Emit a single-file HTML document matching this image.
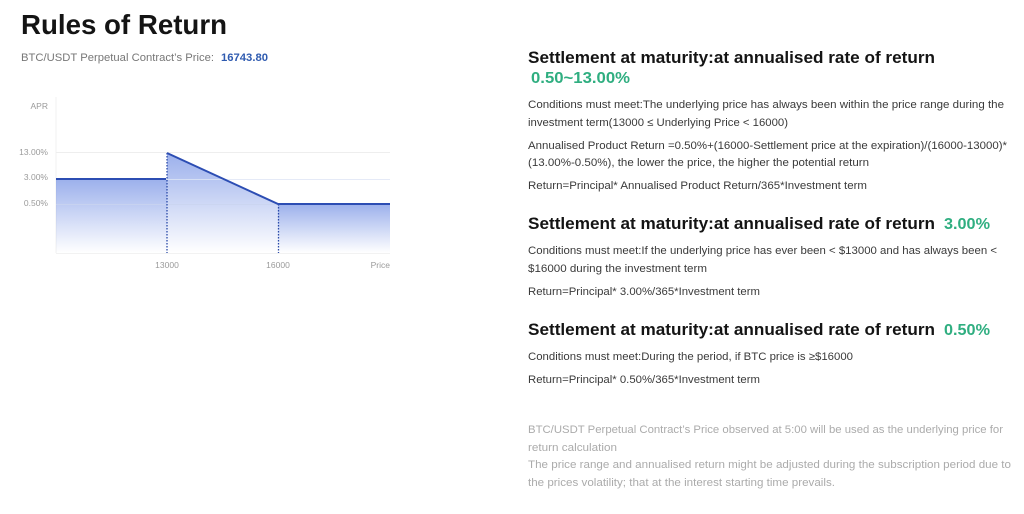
<!DOCTYPE html>
<html>
<head>
<meta charset="utf-8">
<style>
  html, body { margin:0; padding:0; background:#fff; }
  svg { display:block; }
  text { font-family: "Liberation Sans", "DejaVu Sans", sans-serif; }
</style>
</head>
<body>
<svg width="1024" height="514" viewBox="0 0 1024 514" xmlns="http://www.w3.org/2000/svg">
  <defs>
    <linearGradient id="g" x1="0" y1="0" x2="0" y2="1">
      <stop offset="0" stop-color="#4a6fdc" stop-opacity="0.55"/>
      <stop offset="1" stop-color="#4a6fdc" stop-opacity="0"/>
    </linearGradient>
  </defs>
  <rect width="1024" height="514" fill="#fff"/>

  <!-- Left header -->
  <text x="21" y="34" font-size="28" font-weight="bold" fill="#141414" textLength="206" lengthAdjust="spacingAndGlyphs">Rules of Return</text>
  <text x="21" y="61" font-size="11" fill="#777" textLength="193" lengthAdjust="spacingAndGlyphs">BTC/USDT Perpetual Contract’s Price:</text>
  <text x="221" y="61" font-size="11" font-weight="bold" fill="#2f5bb0" textLength="47" lengthAdjust="spacingAndGlyphs">16743.80</text>

  <!-- Chart grid -->
  <line x1="56" y1="97" x2="56" y2="253" stroke="#f0f0f0" stroke-width="1"/>
  <line x1="56" y1="152.5" x2="390" y2="152.5" stroke="#eeeeee" stroke-width="1"/>
  <line x1="56" y1="253.5" x2="390" y2="253.5" stroke="#f2f2f2" stroke-width="1"/>

  <!-- Areas -->
  <polygon points="56,179 167,179 167,253 56,253" fill="url(#g)"/>
  <polygon points="167,153 278,204 278,253 167,253" fill="url(#g)"/>
  <polygon points="278,204 390,204 390,253 278,253" fill="url(#g)"/>

  <!-- gridlines over area -->
  <line x1="56" y1="179.5" x2="390" y2="179.5" stroke="#dfe5f5" stroke-opacity="0.8" stroke-width="1"/>
  <line x1="56" y1="204.5" x2="390" y2="204.5" stroke="#c9d3ef" stroke-opacity="0.8" stroke-width="1"/>

  <!-- dotted verticals -->
  <line x1="167" y1="153" x2="167" y2="253" stroke="#2a4aa8" stroke-width="1.3" stroke-dasharray="1.5,1.5"/>
  <line x1="278.5" y1="204" x2="278.5" y2="253" stroke="#2a4aa8" stroke-width="1.3" stroke-dasharray="1.5,1.5"/>

  <!-- lines -->
  <polyline points="56,179 166,179" fill="none" stroke="#2c4db3" stroke-width="2"/>
  <polyline points="167,153 278,204 390,204" fill="none" stroke="#2c4db3" stroke-width="2" stroke-linejoin="round"/>

  <!-- axis labels -->
  <g font-size="8.5" fill="#9a9a9a">
    <text x="48" y="109" text-anchor="end">APR</text>
    <text x="48" y="155" text-anchor="end">13.00%</text>
    <text x="48" y="180" text-anchor="end">3.00%</text>
    <text x="48" y="206" text-anchor="end">0.50%</text>
    <text x="167" y="268" text-anchor="middle">13000</text>
    <text x="278" y="268" text-anchor="middle">16000</text>
    <text x="390" y="268" text-anchor="end">Price</text>
  </g>

  <!-- Right side -->
  <g font-weight="bold" fill="#141414" font-size="17">
    <text x="528" y="63" textLength="407" lengthAdjust="spacingAndGlyphs">Settlement at maturity:at annualised rate of return</text>
    <text x="528" y="229" textLength="407" lengthAdjust="spacingAndGlyphs">Settlement at maturity:at annualised rate of return</text>
    <text x="528" y="335" textLength="407" lengthAdjust="spacingAndGlyphs">Settlement at maturity:at annualised rate of return</text>
  </g>
  <g font-weight="bold" fill="#2fae80" font-size="15.5">
    <text x="531" y="83" textLength="99" lengthAdjust="spacingAndGlyphs">0.50~13.00%</text>
    <text x="944" y="229" textLength="46" lengthAdjust="spacingAndGlyphs">3.00%</text>
    <text x="944" y="335" textLength="46" lengthAdjust="spacingAndGlyphs">0.50%</text>
  </g>

  <g font-size="11" fill="#3a3a3a">
    <text x="528" y="108" textLength="476" lengthAdjust="spacingAndGlyphs">Conditions must meet:The underlying price has always been within the price range during the</text>
    <text x="528" y="126" textLength="260" lengthAdjust="spacingAndGlyphs">investment term(13000 ≤ Underlying Price &lt; 16000)</text>
    <text x="528" y="149" textLength="479" lengthAdjust="spacingAndGlyphs">Annualised Product Return =0.50%+(16000-Settlement price at the expiration)/(16000-13000)*</text>
    <text x="528" y="166" textLength="341" lengthAdjust="spacingAndGlyphs">(13.00%-0.50%), the lower the price, the higher the potential return</text>
    <text x="528" y="189" textLength="339" lengthAdjust="spacingAndGlyphs">Return=Principal* Annualised Product Return/365*Investment term</text>

    <text x="528" y="254" textLength="469" lengthAdjust="spacingAndGlyphs">Conditions must meet:If the underlying price has ever been &lt; $13000 and has always been &lt;</text>
    <text x="528" y="272" textLength="179" lengthAdjust="spacingAndGlyphs">$16000 during the investment term</text>
    <text x="528" y="295" textLength="232" lengthAdjust="spacingAndGlyphs">Return=Principal* 3.00%/365*Investment term</text>

    <text x="528" y="360" textLength="325" lengthAdjust="spacingAndGlyphs">Conditions must meet:During the period, if BTC price is ≥$16000</text>
    <text x="528" y="383" textLength="232" lengthAdjust="spacingAndGlyphs">Return=Principal* 0.50%/365*Investment term</text>
  </g>

  <g font-size="11" fill="#ababab">
    <text x="528" y="433" textLength="475" lengthAdjust="spacingAndGlyphs">BTC/USDT Perpetual Contract’s Price observed at 5:00 will be used as the underlying price for</text>
    <text x="528" y="451" textLength="89" lengthAdjust="spacingAndGlyphs">return calculation</text>
    <text x="528" y="468" textLength="483" lengthAdjust="spacingAndGlyphs">The price range and annualised return might be adjusted during the subscription period due to</text>
    <text x="528" y="486" textLength="307" lengthAdjust="spacingAndGlyphs">the prices volatility; that at the interest starting time prevails.</text>
  </g>
</svg>
</body>
</html>
